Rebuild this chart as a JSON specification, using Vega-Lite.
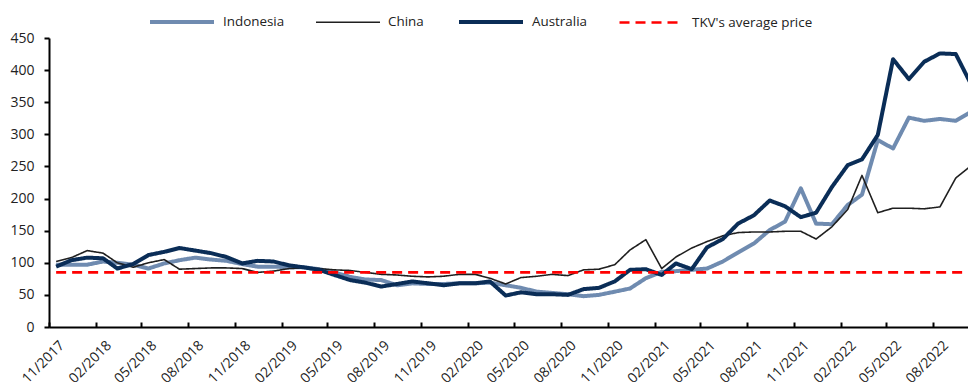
{
  "$schema": "https://vega.github.io/schema/vega-lite/v6.json",
  "width": 919,
  "height": 289,
  "autosize": {"type": "none"},
  "padding": {"left": 49, "top": 38, "right": 0, "bottom": 55},
  "background": "white",
  "config": {"view": {"stroke": null}, "font": "Open Sans"},
  "data": {
    "values": [
      {"date": "2017-11-15", "Indonesia": 97, "China": 102, "Australia": 94, "TKV": 85},
      {"date": "2017-12-15", "Indonesia": 97, "China": 108, "Australia": 104, "TKV": 85},
      {"date": "2018-01-15", "Indonesia": 97, "China": 119, "Australia": 108, "TKV": 85},
      {"date": "2018-02-15", "Indonesia": 102, "China": 115, "Australia": 107, "TKV": 85},
      {"date": "2018-03-15", "Indonesia": 100, "China": 100, "Australia": 91, "TKV": 85},
      {"date": "2018-04-15", "Indonesia": 97, "China": 93, "Australia": 98, "TKV": 85},
      {"date": "2018-05-15", "Indonesia": 91, "China": 100, "Australia": 112, "TKV": 85},
      {"date": "2018-06-15", "Indonesia": 99, "China": 105, "Australia": 117, "TKV": 85},
      {"date": "2018-07-15", "Indonesia": 104, "China": 90, "Australia": 123, "TKV": 85},
      {"date": "2018-08-15", "Indonesia": 108, "China": 91, "Australia": 119, "TKV": 85},
      {"date": "2018-09-15", "Indonesia": 105, "China": 92, "Australia": 115, "TKV": 85},
      {"date": "2018-10-15", "Indonesia": 103, "China": 92, "Australia": 109, "TKV": 85},
      {"date": "2018-11-15", "Indonesia": 98, "China": 91, "Australia": 99, "TKV": 85},
      {"date": "2018-12-15", "Indonesia": 94, "China": 85, "Australia": 103, "TKV": 85},
      {"date": "2019-01-15", "Indonesia": 94, "China": 87, "Australia": 102, "TKV": 85},
      {"date": "2019-02-15", "Indonesia": 93, "China": 91, "Australia": 96, "TKV": 85},
      {"date": "2019-03-15", "Indonesia": 93, "China": 92, "Australia": 93, "TKV": 85},
      {"date": "2019-04-15", "Indonesia": 90, "China": 91, "Australia": 89, "TKV": 85},
      {"date": "2019-05-15", "Indonesia": 85, "China": 89, "Australia": 81, "TKV": 85},
      {"date": "2019-06-15", "Indonesia": 78, "China": 88, "Australia": 73, "TKV": 85},
      {"date": "2019-07-15", "Indonesia": 74, "China": 85, "Australia": 69, "TKV": 85},
      {"date": "2019-08-15", "Indonesia": 73, "China": 82, "Australia": 63, "TKV": 85},
      {"date": "2019-09-15", "Indonesia": 65, "China": 81, "Australia": 67, "TKV": 85},
      {"date": "2019-10-15", "Indonesia": 68, "China": 79, "Australia": 71, "TKV": 85},
      {"date": "2019-11-15", "Indonesia": 67, "China": 78, "Australia": 68, "TKV": 85},
      {"date": "2019-12-15", "Indonesia": 67, "China": 79, "Australia": 65, "TKV": 85},
      {"date": "2020-01-15", "Indonesia": 68, "China": 82, "Australia": 68, "TKV": 85},
      {"date": "2020-02-15", "Indonesia": 68, "China": 82, "Australia": 68, "TKV": 85},
      {"date": "2020-03-15", "Indonesia": 69, "China": 76, "Australia": 71, "TKV": 85},
      {"date": "2020-04-15", "Indonesia": 65, "China": 67, "Australia": 49, "TKV": 85},
      {"date": "2020-05-15", "Indonesia": 61, "China": 77, "Australia": 54, "TKV": 85},
      {"date": "2020-06-15", "Indonesia": 55, "China": 79, "Australia": 51, "TKV": 85},
      {"date": "2020-07-15", "Indonesia": 53, "China": 82, "Australia": 51, "TKV": 85},
      {"date": "2020-08-15", "Indonesia": 51, "China": 80, "Australia": 50, "TKV": 85},
      {"date": "2020-09-15", "Indonesia": 48, "China": 89, "Australia": 59, "TKV": 85},
      {"date": "2020-10-15", "Indonesia": 50, "China": 90, "Australia": 61, "TKV": 85},
      {"date": "2020-11-15", "Indonesia": 55, "China": 97, "Australia": 71, "TKV": 85},
      {"date": "2020-12-15", "Indonesia": 60, "China": 120, "Australia": 89, "TKV": 85},
      {"date": "2021-01-15", "Indonesia": 76, "China": 136, "Australia": 90, "TKV": 85},
      {"date": "2021-02-15", "Indonesia": 86, "China": 91, "Australia": 81, "TKV": 85},
      {"date": "2021-03-15", "Indonesia": 87, "China": 109, "Australia": 99, "TKV": 85},
      {"date": "2021-04-15", "Indonesia": 89, "China": 123, "Australia": 90, "TKV": 85},
      {"date": "2021-05-15", "Indonesia": 91, "China": 133, "Australia": 124, "TKV": 85},
      {"date": "2021-06-15", "Indonesia": 102, "China": 142, "Australia": 137, "TKV": 85},
      {"date": "2021-07-15", "Indonesia": 116, "China": 147, "Australia": 161, "TKV": 85},
      {"date": "2021-08-15", "Indonesia": 130, "China": 148, "Australia": 174, "TKV": 85},
      {"date": "2021-09-15", "Indonesia": 151, "China": 148, "Australia": 197, "TKV": 85},
      {"date": "2021-10-15", "Indonesia": 164, "China": 149, "Australia": 188, "TKV": 85},
      {"date": "2021-11-15", "Indonesia": 216, "China": 149, "Australia": 171, "TKV": 85},
      {"date": "2021-12-15", "Indonesia": 161, "China": 137, "Australia": 178, "TKV": 85},
      {"date": "2022-01-15", "Indonesia": 160, "China": 156, "Australia": 218, "TKV": 85},
      {"date": "2022-02-15", "Indonesia": 190, "China": 183, "Australia": 252, "TKV": 85},
      {"date": "2022-03-15", "Indonesia": 206, "China": 236, "Australia": 261, "TKV": 85},
      {"date": "2022-04-15", "Indonesia": 291, "China": 178, "Australia": 299, "TKV": 85},
      {"date": "2022-05-15", "Indonesia": 278, "China": 185, "Australia": 417, "TKV": 85},
      {"date": "2022-06-15", "Indonesia": 326, "China": 185, "Australia": 386, "TKV": 85},
      {"date": "2022-07-15", "Indonesia": 321, "China": 184, "Australia": 413, "TKV": 85},
      {"date": "2022-08-15", "Indonesia": 324, "China": 187, "Australia": 426, "TKV": 85},
      {"date": "2022-09-15", "Indonesia": 321, "China": 232, "Australia": 425, "TKV": 85},
      {"date": "2022-10-15", "Indonesia": 335, "China": 251, "Australia": 378, "TKV": 85}
    ]
  },
  "transform": [
    {"fold": ["Indonesia", "China", "Australia", "TKV"], "as": ["series", "value"]}
  ],
  "mark": {"type": "line", "clip": true, "strokeJoin": "round"},
  "encoding": {
    "x": {
      "field": "date",
      "type": "temporal",
      "scale": {
        "type": "utc",
        "domain": [
          {"year": 2017, "month": 11, "date": 1, "utc": true},
          {"year": 2022, "month": 10, "date": 9, "utc": true}
        ]
      },
      "axis": {
        "title": null,
        "format": "%m/%Y",
        "values": [
          {"year": 2017, "month": 11, "date": 1, "utc": true},
          {"year": 2018, "month": 2, "date": 1, "utc": true},
          {"year": 2018, "month": 5, "date": 1, "utc": true},
          {"year": 2018, "month": 8, "date": 1, "utc": true},
          {"year": 2018, "month": 11, "date": 1, "utc": true},
          {"year": 2019, "month": 2, "date": 1, "utc": true},
          {"year": 2019, "month": 5, "date": 1, "utc": true},
          {"year": 2019, "month": 8, "date": 1, "utc": true},
          {"year": 2019, "month": 11, "date": 1, "utc": true},
          {"year": 2020, "month": 2, "date": 1, "utc": true},
          {"year": 2020, "month": 5, "date": 1, "utc": true},
          {"year": 2020, "month": 8, "date": 1, "utc": true},
          {"year": 2020, "month": 11, "date": 1, "utc": true},
          {"year": 2021, "month": 2, "date": 1, "utc": true},
          {"year": 2021, "month": 5, "date": 1, "utc": true},
          {"year": 2021, "month": 8, "date": 1, "utc": true},
          {"year": 2021, "month": 11, "date": 1, "utc": true},
          {"year": 2022, "month": 2, "date": 1, "utc": true},
          {"year": 2022, "month": 5, "date": 1, "utc": true},
          {"year": 2022, "month": 8, "date": 1, "utc": true}
        ],
        "labelAngle": -45,
        "labelFontSize": 14,
        "labelColor": "#222222",
        "labelPadding": 16,
        "labelOffset": 8,
        "labelOverlap": false,
        "labelFlush": false,
        "grid": false,
        "domainColor": "#000000",
        "domainWidth": 2,
        "tickColor": "#000000",
        "tickWidth": 2,
        "tickSize": -5
      }
    },
    "y": {
      "field": "value",
      "type": "quantitative",
      "scale": {"domain": [0, 450], "nice": false},
      "axis": {
        "title": null,
        "values": [0, 50, 100, 150, 200, 250, 300, 350, 400, 450],
        "labelFontSize": 14,
        "labelColor": "#222222",
        "labelPadding": 10,
        "grid": false,
        "domainColor": "#000000",
        "domainWidth": 2,
        "tickColor": "#000000",
        "tickWidth": 2,
        "tickSize": 5
      }
    },
    "color": {
      "field": "series",
      "type": "nominal",
      "scale": {
        "domain": ["Indonesia", "China", "Australia", "TKV"],
        "range": ["#6F8BB0", "#1F1F1F", "#0A2D57", "#FF0000"]
      },
      "legend": {
        "orient": "none",
        "legendX": 99,
        "legendY": -50,
        "direction": "horizontal",
        "title": null,
        "symbolType": "stroke",
        "symbolSize": 4096,
        "labelFontSize": 13.4,
        "labelColor": "#222222",
        "labelOffset": 7,
        "columnPadding": 27,
        "padding": 0,
        "labelExpr": "datum.label == 'TKV' ? \"TKV's average price\" : datum.label"
      }
    },
    "strokeWidth": {
      "field": "series",
      "type": "nominal",
      "scale": {
        "type": "ordinal",
        "domain": ["Indonesia", "China", "Australia", "TKV"],
        "range": [4, 1.6, 4, 2.6]
      },
      "legend": {
        "orient": "none",
        "legendX": 99,
        "legendY": -50,
        "direction": "horizontal",
        "title": null,
        "symbolType": "stroke",
        "symbolSize": 4096,
        "labelFontSize": 13.4,
        "labelColor": "#222222",
        "labelOffset": 7,
        "columnPadding": 27,
        "padding": 0,
        "labelExpr": "datum.label == 'TKV' ? \"TKV's average price\" : datum.label"
      }
    },
    "strokeDash": {
      "field": "series",
      "type": "nominal",
      "scale": {
        "domain": ["Indonesia", "China", "Australia", "TKV"],
        "range": [[1, 0], [1, 0], [1, 0], [10, 6]]
      },
      "legend": {
        "orient": "none",
        "legendX": 99,
        "legendY": -50,
        "direction": "horizontal",
        "title": null,
        "symbolType": "stroke",
        "symbolSize": 4096,
        "labelFontSize": 13.4,
        "labelColor": "#222222",
        "labelOffset": 7,
        "columnPadding": 27,
        "padding": 0,
        "labelExpr": "datum.label == 'TKV' ? \"TKV's average price\" : datum.label"
      }
    }
  }
}
